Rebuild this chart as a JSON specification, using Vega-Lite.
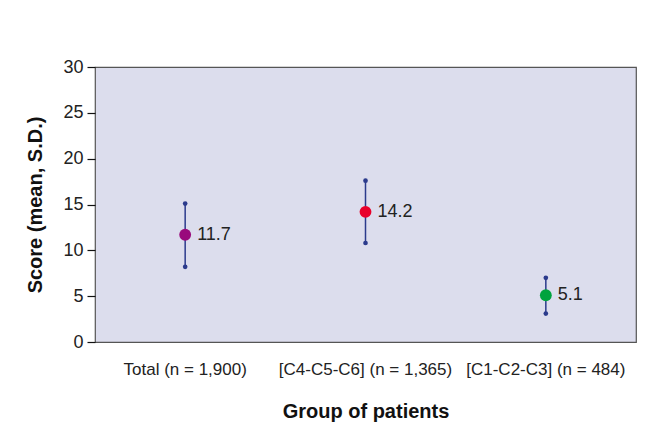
{
  "$schema": "https://vega.github.io/schema/vega-lite/v6.json",
  "autosize": "none",
  "width": 541,
  "height": 275,
  "padding": {"left": 95, "top": 67, "right": 18, "bottom": 104},
  "background": "white",
  "config": {
    "view": {"fill": "#dcdded", "stroke": "#555555", "strokeWidth": 1.2},
    "axis": {"grid": false}
  },
  "data": {
    "values": [
      {"group": "Total (n = 1,900)", "mean": 11.7, "lo": 8.2, "hi": 15.1, "label": "11.7"},
      {"group": "[C4-C5-C6] (n = 1,365)", "mean": 14.2, "lo": 10.8, "hi": 17.6, "label": "14.2"},
      {"group": "[C1-C2-C3] (n = 484)", "mean": 5.1, "lo": 3.1, "hi": 7.0, "label": "5.1"}
    ]
  },
  "encoding": {
    "x": {
      "field": "group", "type": "nominal", "sort": null,
      "scale": {"paddingInner": 0, "paddingOuter": 0},
      "axis": {
        "title": "Group of patients", "labelAngle": 0, "ticks": false, "domain": false,
        "labelPadding": 19, "labelFont": "Liberation Sans",
        "labelFontSize": 17, "labelColor": "#222222",
        "titleFont": "Liberation Sans", "titleFontSize": 20, "titleFontWeight": "bold",
        "titleColor": "#111111", "titlePadding": 24
      }
    }
  },
  "layer": [
    {
      "mark": {"type": "rule", "color": "#2b3a8c", "strokeWidth": 1.5},
      "encoding": {
        "y": {
          "field": "lo", "type": "quantitative",
          "scale": {"domain": [0, 30], "nice": false},
          "axis": {
            "title": "Score (mean, S.D.)", "values": [0, 5, 10, 15, 20, 25, 30],
            "domain": false, "tickColor": "#111111", "tickSize": 8, "tickWidth": 1.2,
            "labelPadding": 4, "labelFont": "Liberation Sans",
            "labelFontSize": 18, "labelColor": "#222222",
            "titleFont": "Liberation Sans", "titleFontSize": 20, "titleFontWeight": "bold",
            "titleColor": "#111111", "titlePadding": 17
          }
        },
        "y2": {"field": "hi"}
      }
    },
    {
      "mark": {"type": "point", "filled": true, "size": 22, "color": "#2b3a8c", "opacity": 1},
      "encoding": {"y": {"field": "lo", "type": "quantitative"}}
    },
    {
      "mark": {"type": "point", "filled": true, "size": 22, "color": "#2b3a8c", "opacity": 1},
      "encoding": {"y": {"field": "hi", "type": "quantitative"}}
    },
    {
      "mark": {"type": "point", "filled": true, "size": 140, "opacity": 1},
      "encoding": {
        "y": {"field": "mean", "type": "quantitative"},
        "color": {
          "field": "group", "type": "nominal", "legend": null,
          "scale": {
            "domain": ["Total (n = 1,900)", "[C4-C5-C6] (n = 1,365)", "[C1-C2-C3] (n = 484)"],
            "range": ["#990a7c", "#e8002b", "#00a33e"]
          }
        }
      }
    },
    {
      "mark": {"type": "text", "align": "left", "baseline": "middle", "dx": 12, "font": "Liberation Sans", "fontSize": 18, "color": "#222222"},
      "encoding": {
        "y": {"field": "mean", "type": "quantitative"},
        "text": {"field": "label"}
      }
    }
  ]
}
